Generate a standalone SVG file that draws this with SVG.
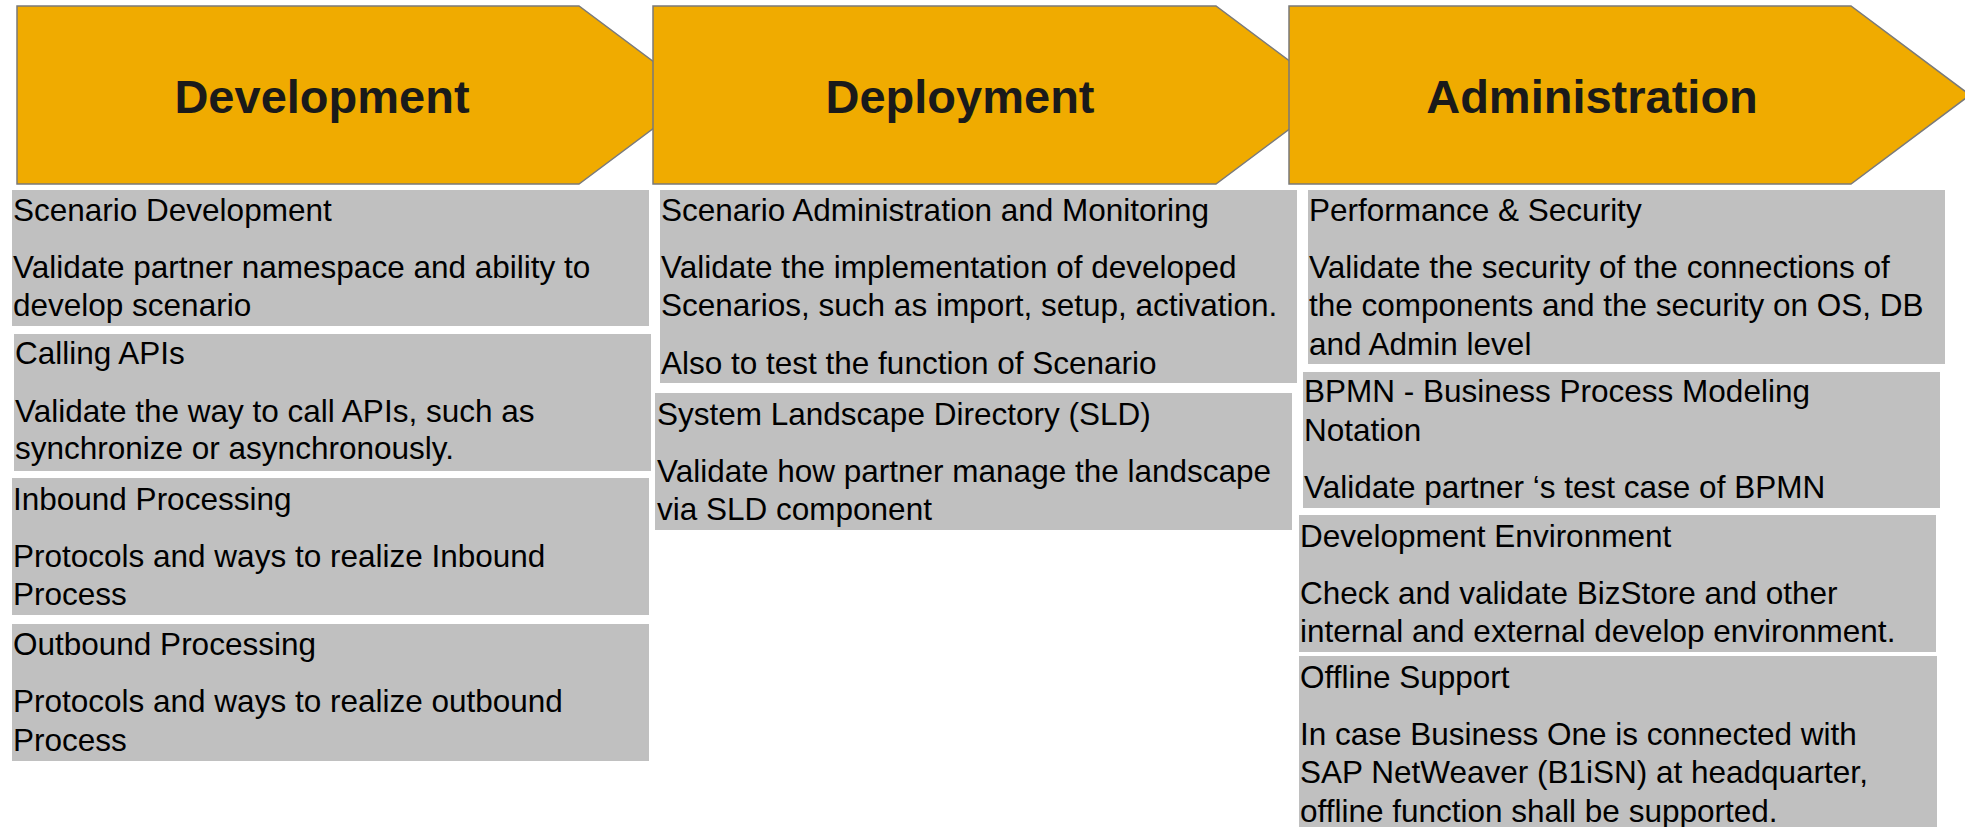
<svg xmlns="http://www.w3.org/2000/svg" width="1965" height="827" viewBox="0 0 1965 827">
<style>
.chev{fill:#F0AB00;stroke:#7a7a7a;stroke-width:1.5}
.hdr{font-family:"Liberation Sans",Arial,sans-serif;font-weight:bold;font-size:47px;fill:#1a1a1a;text-anchor:middle}
.box{fill:#C0C0C0}
.t{font-family:"Liberation Sans",Arial,sans-serif;font-size:31.5px;fill:#000}
</style>
<rect width="1965" height="827" fill="#fff"/>
<g id="phase-development">
<polygon class="chev" points="17,6 579,6 698,95 579,184 17,184"/>
<text class="hdr" x="322" y="113">Development</text>
</g>
<g id="phase-deployment">
<polygon class="chev" points="653,6 1216,6 1335,95 1216,184 653,184"/>
<text class="hdr" x="960" y="113">Deployment</text>
</g>
<g id="phase-administration">
<polygon class="chev" points="1289,6 1851,6 1970,95 1851,184 1289,184"/>
<text class="hdr" x="1592" y="113">Administration</text>
</g>
<g id="scenario-development">
<rect class="box" x="12" y="190" width="637" height="136"/>
<text class="t" x="13" y="221">Scenario Development</text>
<text class="t" x="13" y="278">Validate partner namespace and ability to</text>
<text class="t" x="13" y="316">develop scenario</text>
</g>
<g id="calling-apis">
<rect class="box" x="14" y="334" width="637" height="137"/>
<text class="t" x="15" y="364">Calling APIs</text>
<text class="t" x="15" y="422">Validate the way to call APIs, such as</text>
<text class="t" x="15" y="459">synchronize or asynchronously.</text>
</g>
<g id="inbound-processing">
<rect class="box" x="12" y="478" width="637" height="137"/>
<text class="t" x="13" y="510">Inbound Processing</text>
<text class="t" x="13" y="567">Protocols and ways to realize Inbound</text>
<text class="t" x="13" y="605">Process</text>
</g>
<g id="outbound-processing">
<rect class="box" x="12" y="624" width="637" height="137"/>
<text class="t" x="13" y="655">Outbound Processing</text>
<text class="t" x="13" y="712">Protocols and ways to realize outbound</text>
<text class="t" x="13" y="751">Process</text>
</g>
<g id="scenario-administration">
<rect class="box" x="660" y="190" width="637" height="193"/>
<text class="t" x="661" y="221">Scenario Administration and Monitoring</text>
<text class="t" x="661" y="278">Validate the implementation of developed</text>
<text class="t" x="661" y="316">Scenarios, such as import, setup, activation.</text>
<text class="t" x="661" y="374">Also to test the function of Scenario</text>
</g>
<g id="system-landscape-directory">
<rect class="box" x="655" y="393" width="637" height="137"/>
<text class="t" x="657" y="425">System Landscape Directory (SLD)</text>
<text class="t" x="657" y="482">Validate how partner manage the landscape</text>
<text class="t" x="657" y="520">via SLD component</text>
</g>
<g id="performance-security">
<rect class="box" x="1308" y="190" width="637" height="174"/>
<text class="t" x="1309" y="221">Performance &amp; Security</text>
<text class="t" x="1309" y="278">Validate the security of the connections of</text>
<text class="t" x="1309" y="316">the components and the security on OS, DB</text>
<text class="t" x="1309" y="355">and Admin level</text>
</g>
<g id="bpmn">
<rect class="box" x="1303" y="372" width="637" height="136"/>
<text class="t" x="1304" y="402">BPMN - Business Process Modeling</text>
<text class="t" x="1304" y="441">Notation</text>
<text class="t" x="1304" y="498">Validate partner ‘s test case of BPMN</text>
</g>
<g id="development-environment">
<rect class="box" x="1299" y="515" width="637" height="137"/>
<text class="t" x="1300" y="547">Development Environment</text>
<text class="t" x="1300" y="604">Check and validate BizStore and other</text>
<text class="t" x="1300" y="642">internal and external develop environment.</text>
</g>
<g id="offline-support">
<rect class="box" x="1299" y="656" width="638" height="171"/>
<text class="t" x="1300" y="688">Offline Support</text>
<text class="t" x="1300" y="745">In case Business One is connected with</text>
<text class="t" x="1300" y="783">SAP NetWeaver (B1iSN) at headquarter,</text>
<text class="t" x="1300" y="822">offline function shall be supported.</text>
</g>
<g id="connectors"></g>
</svg>
